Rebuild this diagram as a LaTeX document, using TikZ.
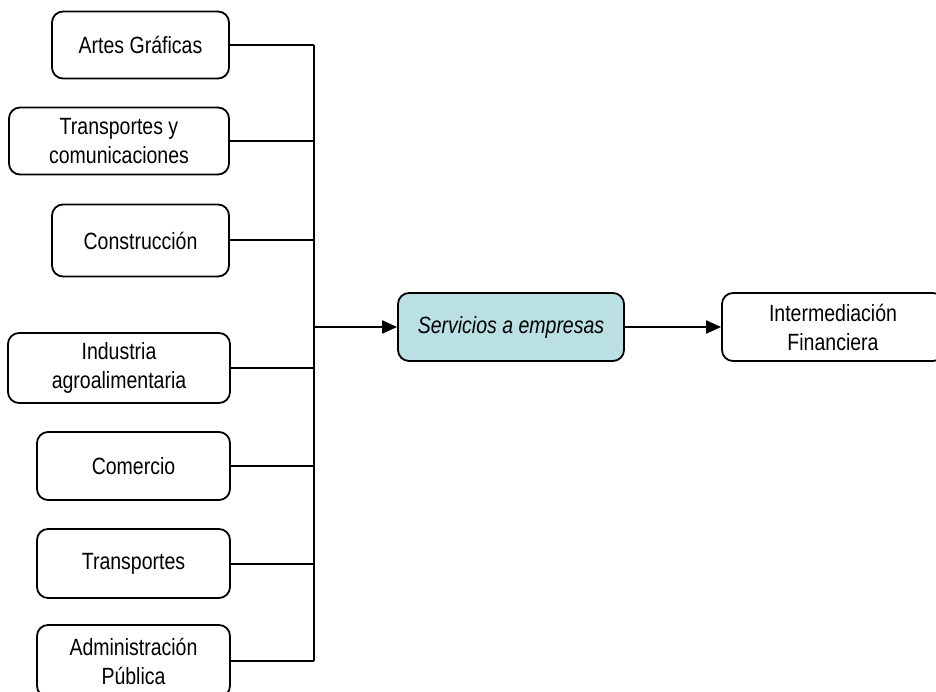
\documentclass[tikz,border=0pt]{standalone}
\usepackage{fontspec}
\setmainfont{Liberation Sans}[FakeStretch=0.83]
\usetikzlibrary{arrows.meta}
\definecolor{servfill}{HTML}{BAE0E3}
\tikzset{
  box/.style={draw=black, line width=1.8pt, rounded corners=11pt, align=center,
    inner sep=0pt, font=\fontsize{23.5}{29}\selectfont, fill=white},
  link/.style={draw=black, line width=2pt},
  arr/.style={link, -{Triangle[length=15pt,width=13pt]}}
}
\begin{document}
\begin{tikzpicture}[x=1pt,y=-1pt]
\useasboundingbox (0,0) rectangle (936,692);
\clip (0,0) rectangle (936,692);
\node[box, minimum width=177pt, minimum height=67pt] (artes) at (140.5,45) {Artes Gráficas};
\node[box, minimum width=220pt, minimum height=67pt] (tyc) at (119,141) {Transportes y\\comunicaciones};
\node[box, minimum width=177pt, minimum height=72pt] (cons) at (140.5,240.5) {Construcción};
\node[box, minimum width=222pt, minimum height=70pt] (ind) at (119,368) {Industria\\agroalimentaria};
\node[box, minimum width=193pt, minimum height=68pt] (com) at (133.5,466) {Comercio};
\node[box, minimum width=193pt, minimum height=69pt] (trans) at (133.5,563.5) {Transportes};
\node[box, minimum width=193pt, minimum height=72pt] (admin) at (133.5,661) {Administración\\Pública};
\node[box, fill=servfill, minimum width=226pt, minimum height=68pt] (serv) at (511,327) {\itshape Servicios a empresas};
\node[box, minimum width=222pt, minimum height=68pt] (inter) at (833,327) {Intermediación\\Financiera};
\coordinate (bus) at (314,327);
\foreach \n in {artes,tyc,cons,ind,com,trans,admin}{
  \draw[link] (\n.east) -- (\n.east -| bus);
}
\draw[link] (artes.east -| bus) -- (admin.east -| bus);
\draw[arr] (bus) -- (serv.west);
\draw[arr] (serv.east) -- (inter.west);
\end{tikzpicture}
\end{document}
